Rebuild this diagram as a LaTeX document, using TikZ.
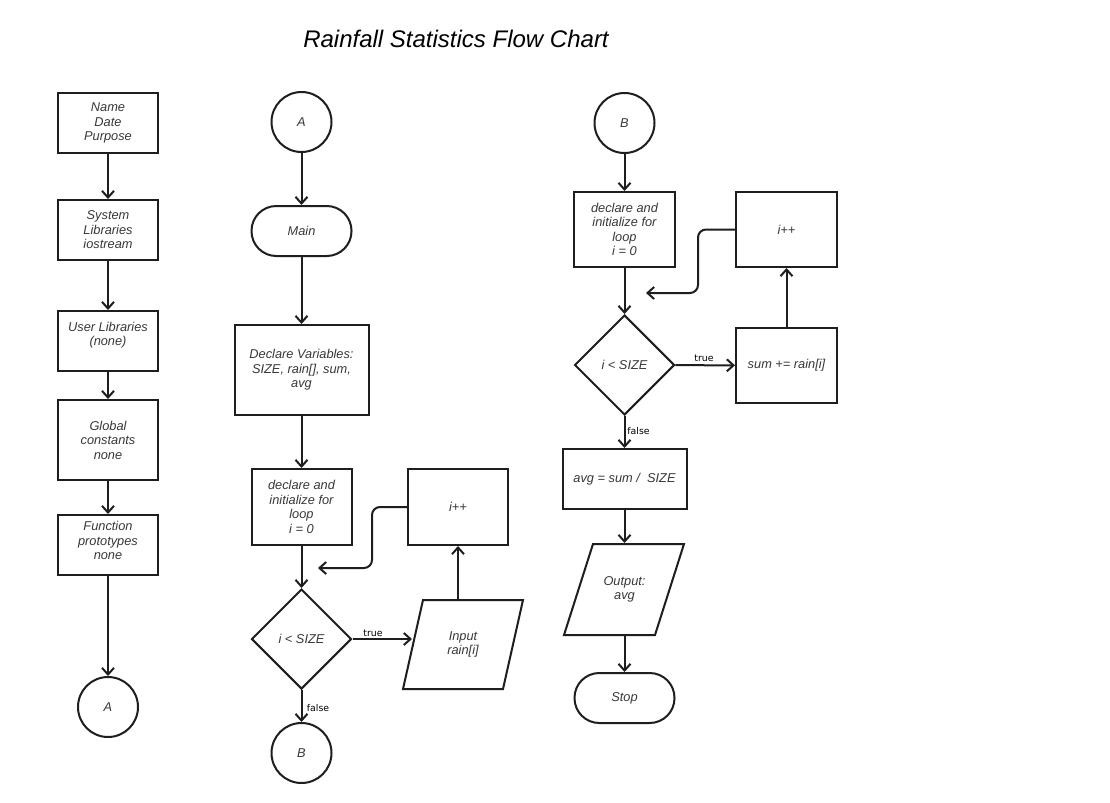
\documentclass[tikz,border=0pt]{standalone}
\usepackage{fontspec}
\setmainfont{Liberation Sans}
\newfontfamily\lblfont{DejaVu Sans}
\usetikzlibrary{arrows.meta,shapes.geometric}
\definecolor{linec}{HTML}{1E1E1E}
\definecolor{textc}{HTML}{383838}
\begin{document}
\begin{tikzpicture}[x=0.75pt,y=-0.75pt,line width=1.5pt,
  box/.style={draw=linec,fill=white,rectangle,inner sep=2pt,align=center,
    font=\itshape\fontsize{9.6}{10.9}\selectfont,text=textc},
  term/.style={box,rounded corners=18.6pt,minimum width=75pt,minimum height=37.5pt},
  conn/.style={box,circle,minimum size=45pt,inner sep=0pt},
  dec/.style={box,diamond,minimum width=75pt,minimum height=75pt,inner sep=0pt},
  ptext/.style={rectangle,inner sep=0pt,align=center,
    font=\itshape\fontsize{9.6}{10.9}\selectfont,text=textc},
  arr/.style={draw=linec,-{Straight Barb[length=5pt,width=9pt]}},
  lbl/.style={font=\lblfont\fontsize{7}{8}\selectfont,text=black,inner sep=0pt}
]
\fill[white] (0,0) rectangle (1110,803);
\node[anchor=base,font=\itshape\fontsize{18}{20}\selectfont,text=black] (title) at (456,47) {Rainfall Statistics Flow Chart};

% left column
\node[box,minimum width=75pt,minimum height=45pt] (n1) at (108,123) {Name\\Date\\Purpose};
\node[box,minimum width=75pt,minimum height=45pt] (n2) at (108,230) {System\\Libraries\\iostream};
\node[box,minimum width=75pt,minimum height=45pt] (n3) at (108,341) {User Libraries\\(none)\\\mbox{}};
\node[box,minimum width=75pt,minimum height=60pt] (n4) at (108,440) {Global\\constants\\none};
\node[box,minimum width=75pt,minimum height=45pt] (n5) at (108,545) {Function\\prototypes\\none\\[-4pt]\mbox{}};
\node[conn] (cA1) at (108,707) {A};
\draw[arr] (n1) -- (n2);
\draw[arr] (n2) -- (n3);
\draw[arr] (n3) -- (n4);
\draw[arr] (n4) -- (n5);
\draw[arr] (n5) -- (cA1);

% middle column
\node[conn] (cA2) at (301.5,122) {A};
\node[term] (main) at (301.5,231) {Main};
\node[box,minimum width=100.5pt,minimum height=67.5pt] (decl) at (301.5,370) {Declare Variables:\\SIZE, rain[], sum,\\avg};
\node[box,minimum width=75pt,minimum height=57pt] (init1) at (301.5,507) {declare and\\initialize for\\loop\\i = 0};
\node[box,minimum width=75pt,minimum height=57pt] (inc1) at (458,507) {i++};
\node[dec] (d1) at (301.5,639) {i < SIZE};
\draw[draw=linec,fill=white] (423,600) -- (523,600) -- (503,689) -- (403,689) -- cycle;
\node[ptext,minimum width=75pt,minimum height=66.75pt] (in1) at (463,644.5) {Input\\rain[i]};
\node[conn] (cB1) at (301.5,753) {B};
\coordinate (t1) at (318,568);
\draw[arr] (cA2) -- (main);
\draw[arr] (main) -- (decl);
\draw[arr] (decl) -- (init1);
\draw[arr] (init1) -- (d1);
\draw[arr] (d1) -- (cB1);
\draw[arr] (d1.east) -- (d1.east -| in1.west);
\draw[arr] (inc1.south |- in1.north) -- (inc1.south);
\draw[arr,rounded corners=6pt] (inc1.west) -- ++(-35,0) |- (t1);
\node[lbl] (tl1) at (373,633) {true};
\node[lbl] (fl1) at (318,708) {false};

% right column
\node[conn] (cB2) at (624.5,123) {B};
\node[box,minimum width=75.75pt,minimum height=56.25pt] (init2) at (624.5,229.5) {declare and\\initialize for\\loop\\i = 0};
\node[box,minimum width=75.75pt,minimum height=56.25pt] (inc2) at (786.5,229.5) {i++};
\node[dec] (d2) at (624.5,365) {i < SIZE};
\node[box,minimum width=75.75pt,minimum height=56.25pt] (sum) at (786.5,365.5) {sum += rain[i]};
\node[box,minimum width=93pt,minimum height=45pt] (avg) at (624.5,479) {avg = sum /\ \ SIZE};
\draw[draw=linec,fill=white] (593,544) -- (684,544) -- (655,635) -- (564,635) -- cycle;
\node[ptext,minimum width=60pt,minimum height=68.25pt] (out) at (624.5,589.5) {Output:\\avg};
\node[term] (stop) at (624.5,698) {Stop};
\coordinate (t2) at (646,293);
\draw[arr] (cB2) -- (init2);
\draw[arr] (init2) -- (d2);
\draw[arr] (d2) -- (sum);
\draw[arr] (sum) -- (inc2);
\draw[arr,rounded corners=6pt] (inc2.west) -- ++(-37,0) |- (t2);
\draw[arr] (d2) -- (avg);
\draw[arr] (avg.south) -- (avg.south |- out.north);
\draw[arr] (out.south) -- (stop.north);
\node[lbl] (tl2) at (704,358) {true};
\node[lbl] (fl2) at (638.5,431) {false};
\end{tikzpicture}
\end{document}
